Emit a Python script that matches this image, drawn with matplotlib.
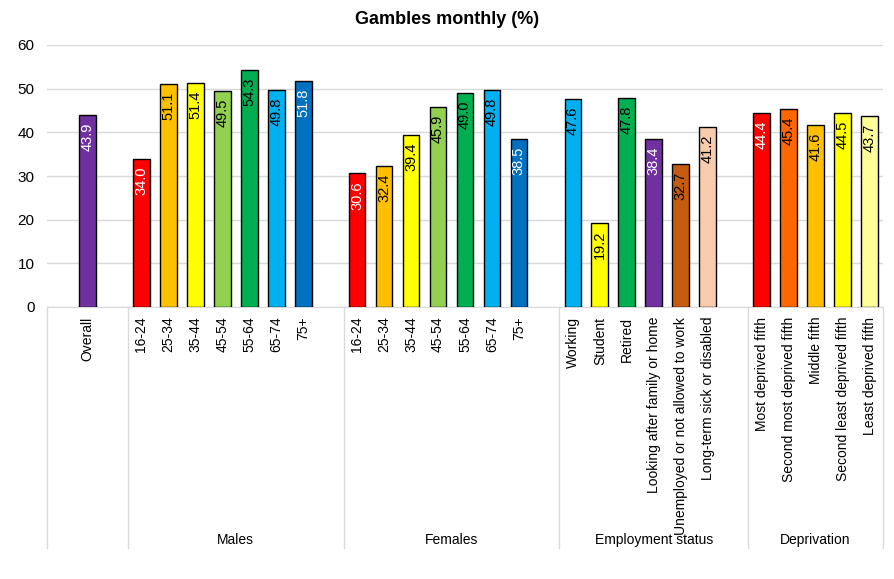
import matplotlib
matplotlib.use("Agg")
import matplotlib.pyplot as plt
import matplotlib.transforms as mtransforms

plt.rcParams["font.family"] = ["Liberation Sans", "DejaVu Sans"]

# ---- data ----
groups = ["", "Males", "Females", "Employment status", "Deprivation"]
group_labels = [
    ["Overall"],
    ["16-24", "25-34", "35-44", "45-54", "55-64", "65-74", "75+"],
    ["16-24", "25-34", "35-44", "45-54", "55-64", "65-74", "75+"],
    ["Working", "Student", "Retired", "Looking after family or home",
     "Unemployed or not allowed to work", "Long-term sick or disabled"],
    ["Most deprived fifth", "Second most deprived fifth", "Middle fifth",
     "Second least deprived fifth", "Least deprived fifth"],
]
group_values = [
    [43.9],
    [34.0, 51.1, 51.4, 49.5, 54.3, 49.8, 51.8],
    [30.6, 32.4, 39.4, 45.9, 49.0, 49.8, 38.5],
    [47.6, 19.2, 47.8, 38.4, 32.7, 41.2],
    [44.4, 45.4, 41.6, 44.5, 43.7],
]
age_colors = ["#FF0000", "#FFC000", "#FFFF00", "#92D050", "#00B050", "#00B0F0", "#0070C0"]
group_colors = [
    ["#7030A0"],
    age_colors,
    age_colors,
    ["#00B0F0", "#FFFF00", "#00B050", "#7030A0", "#C55A11", "#F8CBAD"],
    ["#FF0000", "#FF6600", "#FFC000", "#FFFF00", "#FFFF99"],
]
white_text = {"#7030A0", "#FF0000", "#0070C0"}

# ---- layout of slots: one blank slot between groups ----
# Overall sits with a blank slot on each side
positions, labels, values, colors = [], [], [], []
bounds = [-1.5]
x = 0
for gi, (labs, vals, cols) in enumerate(zip(group_labels, group_values, group_colors)):
    for lab, v, c in zip(labs, vals, cols):
        positions.append(x)
        labels.append(lab)
        values.append(v)
        colors.append(c)
        x += 1
    bounds.append(x + 0.5 if gi < len(group_labels) - 1 else x - 0.5)
    x += 1

fig = plt.figure(figsize=(8.95, 5.79), dpi=100)
ax = fig.add_axes([47 / 895, 1 - 307 / 579, (883 - 47) / 895, (307 - 45) / 579])

bars = ax.bar(positions, values, width=0.62, color=colors, edgecolor="black", linewidth=1.0, zorder=3)

for b, v, c in zip(bars, values, colors):
    ax.annotate(f"{v:.1f}", (b.get_x() + b.get_width() / 2, v),
                xytext=(0, -5.5), textcoords="offset points",
                ha="center", va="top", rotation=90, fontsize=10.5,
                color="white" if c in white_text else "black", zorder=4)

ax.set_xlim(-1.5, x - 1.5)
ax.set_ylim(0, 60)
ax.set_yticks(range(0, 61, 10))
ax.grid(axis="y", color="#D9D9D9", linewidth=1.0, zorder=0)
ax.set_axisbelow(True)
for s in ["left", "right", "top"]:
    ax.spines[s].set_visible(False)
ax.spines["bottom"].set_color("#D9D9D9")
ax.tick_params(axis="y", length=0, labelsize=11, pad=9)
ax.set_xticks(positions)
ax.set_xticklabels(labels, rotation=90, va="top", ha="center", fontsize=10)
ax.tick_params(axis="x", length=0, pad=7)

trans = mtransforms.blended_transform_factory(ax.transData, ax.transAxes)
for bx in bounds:
    ax.plot([bx, bx], [0, -0.92], transform=trans, color="#D9D9D9", linewidth=1.0, clip_on=False)
for g, lo, hi in zip(groups, bounds[:-1], bounds[1:]):
    if g:
        ax.text((lo + hi) / 2, -0.889, g, transform=trans, ha="center", va="center", fontsize=10)

fig.text(0.5, 1 - 20 / 579, "Gambles monthly (%)", ha="center", va="center", fontsize=13, fontweight="bold")

fig.savefig("out.png", dpi=100)
